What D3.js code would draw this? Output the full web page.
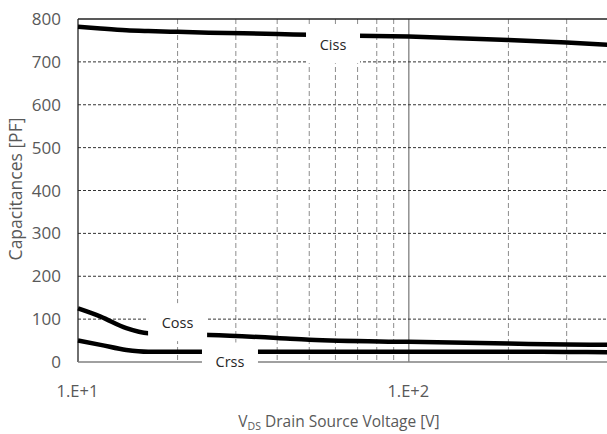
<!DOCTYPE html>
<html>
<head>
<meta charset="utf-8">
<script src="https://cdn.jsdelivr.net/npm/d3@7"></script>
<style>
  body { margin: 0; background: #fff; }
  svg { display: block; font-family: "Open Sans", Lato, sans-serif; }
</style>
</head>
<body>
<svg id="chart" width="607" height="434"></svg>
<script>
// data
var vds = [10, 11.7, 14, 16.3, 20, 25, 40, 50, 100, 200, 300, 400];
var ciss = [782, 778, 774, 772, 770, 768, 765, 763, 759, 751, 745, 740];
var coss = [125, 106, 79, 67, 65, 63, 56, 52, 47, 43, 41, 40];
var crss = [50, 40, 28, 24, 24, 24, 24, 24, 24, 24, 23.5, 23];
var yTicks = [0, 100, 200, 300, 400, 500, 600, 700, 800];
var xGrid = [20, 30, 40, 50, 60, 70, 80, 90, 100, 200, 300];
var xTicks = [10, 100];
var seriesNames = ["Ciss", "Coss", "Crss"];

var svg = d3.select("#chart")
var margin = {left: 78, top: 19, right: -1, bottom: 72}
var W = 607, H = 434
var pw = W - margin.left - margin.right
var ph = H - margin.top - margin.bottom

var x = d3.scaleLog().domain([10, 400]).range([0, pw])
var y = d3.scaleLinear().domain([0, 800]).range([ph, 0])

var g = svg.append("g")
	.attr("transform", "translate(" + margin.left + "," + margin.top + ")")

// vertical grid
g.selectAll(".vgrid")
	.data(xGrid)
	.enter()
	.append("line")
	.attr("x1", function(d) { return x(d) })
	.attr("x2", function(d) { return x(d) })
	.attr("y1", 0)
	.attr("y2", ph)
	.attr("stroke", function(d) { return d == 100 ? "#7f7f7f" : "#8c8c8c" })
	.attr("stroke-width", function(d) { return d == 100 ? 1.3 : 1 })
	.attr("stroke-dasharray", function(d) { return d == 100 ? null : "5,3" })

// horizontal grid
g.selectAll(".hgrid")
	.data(yTicks.filter(function(d) { return d > 0 && d < 800 }))
	.enter()
	.append("line")
	.attr("x1", 0)
	.attr("x2", pw)
	.attr("y1", function(d) { return y(d) })
	.attr("y2", function(d) { return y(d) })
	.attr("stroke", "#333")
	.attr("stroke-dasharray", "3,2")

// frame
g.append("line").attr("x1", 0).attr("x2", pw).attr("y1", 0).attr("y2", 0)
	.attr("stroke", "#222").attr("stroke-width", 1.3)
g.append("line").attr("x1", 0).attr("x2", 0).attr("y1", 0).attr("y2", ph)
	.attr("stroke", "#222").attr("stroke-width", 1.3)
g.append("line").attr("x1", 0).attr("x2", pw).attr("y1", ph).attr("y2", ph)
	.attr("stroke", "#808080").attr("stroke-width", 1.3)

// curves
var line = d3.line()
	.x(function(d) { return x(d[0]) })
	.y(function(d) { return y(d[1]) })
	.curve(d3.curveMonotoneX)

var series = [ciss, coss, crss]
series.forEach(function(s) {
	g.append("path")
		.datum(vds.map(function(v, i) { return [v, s[i]] }))
		.attr("d", line)
		.attr("fill", "none")
		.attr("stroke", "#000")
		.attr("stroke-width", 4.5)
})

// labels with white boxes (like excel data labels)
// v / box: box centre in data units, t: text centre value
var labels = [
	{name: seriesNames[0], v: 59, box: 741, t: 739, w: 54, h: 38},
	{name: seriesNames[1], v: 20, box: 93, t: 91, w: 59, h: 38},
	{name: seriesNames[2], v: 28.8, box: 4.7, t: -1, w: 56, h: 35}
]
labels.forEach(function(l) {
	var cx = x(l.v)
	g.append("rect")
		.attr("x", cx - l.w / 2)
		.attr("y", y(l.box) - l.h / 2)
		.attr("width", l.w)
		.attr("height", l.h)
		.attr("fill", "#fff")
	g.append("text")
		.attr("x", cx)
		.attr("y", y(l.t) + 5)
		.attr("text-anchor", "middle")
		.attr("font-size", 14.5)
		.attr("fill", "#262626")
		.text(l.name)
})

// y ticks
g.selectAll(".ylab")
	.data(yTicks)
	.enter()
	.append("text")
	.attr("x", -17)
	.attr("y", function(d) { return y(d) + 6 })
	.attr("text-anchor", "end")
	.attr("font-size", 17)
	.attr("fill", "#595959")
	.text(function(d) { return d })

// x ticks
g.selectAll(".xlab")
	.data(xTicks)
	.enter()
	.append("text")
	.attr("x", function(d) { return x(d) - 0.5 })
	.attr("y", ph + 35)
	.attr("text-anchor", "middle")
	.attr("font-size", 16.5)
	.attr("fill", "#595959")
	.text(function(d) { return "1.E+" + Math.round(Math.log10(d)) })

// axis titles
svg.append("text")
	.attr("transform", "translate(22,189) rotate(-90)")
	.attr("text-anchor", "middle")
	.attr("font-size", 17.5)
	.attr("fill", "#595959")
	.text("Capacitances [PF]")

var xt = svg.append("text")
	.attr("x", 339)
	.attr("y", 427)
	.attr("text-anchor", "middle")
	.attr("font-size", 15.5)
	.attr("fill", "#595959")
xt.append("tspan").text("V")
xt.append("tspan").attr("font-size", 10.5).attr("dy", 3).text("DS")
xt.append("tspan").attr("dy", -3).text(" Drain Source Voltage [V]")
</script>
</body>
</html>
